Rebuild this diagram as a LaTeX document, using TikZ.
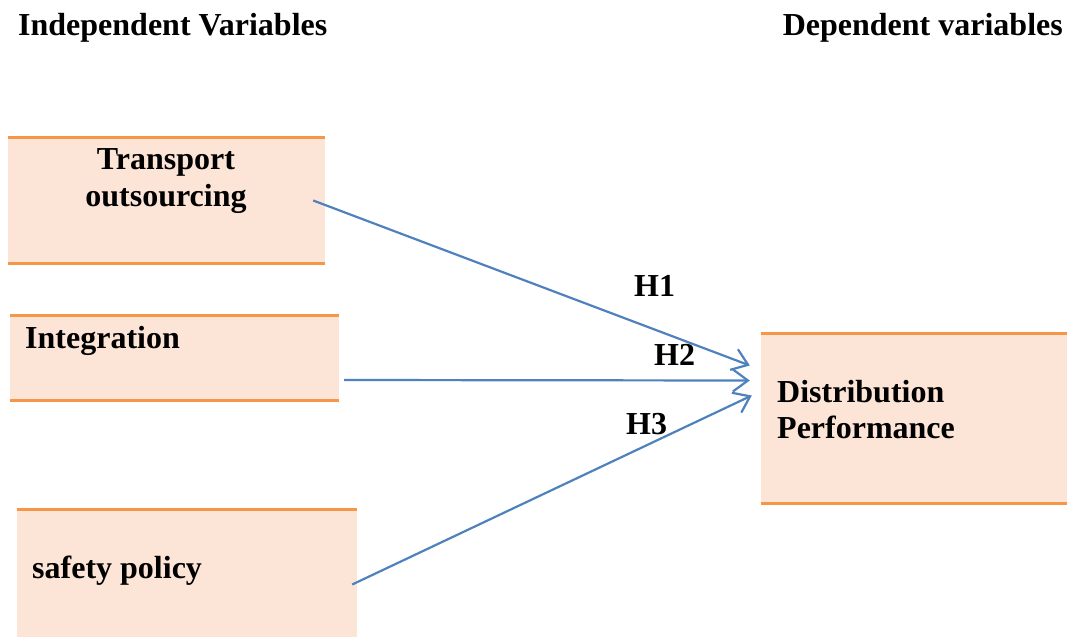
\documentclass[tikz,border=0pt]{standalone}
\usepackage{fontspec}
\setmainfont{Liberation Serif}
\usetikzlibrary{arrows.meta,calc}
\definecolor{boxfill}{HTML}{FCE4D6}
\definecolor{boxline}{HTML}{F79646}
\definecolor{arrowblue}{HTML}{4F81BD}
\tikzset{
  box/.style={fill=boxfill, inner sep=0pt},
  edge/.style={boxline, line width=3.2pt},
  link/.style={arrowblue, line width=2.2pt, -{Straight Barb[length=15pt,width=22pt]}},
  lbl/.style={font=\fontsize{32}{38}\selectfont\bfseries, inner sep=0pt},
}

\begin{document}
\begin{tikzpicture}[x=1pt,y=-1pt]
\useasboundingbox (0,0) rectangle (1067,637);

\node[lbl,anchor=base west] (iv) at (18,35) {Independent Variables};
\node[lbl,anchor=base east] (dv) at (1063,35) {Dependent variables};

% boxes
\node[box,minimum width=317pt,minimum height=125pt] (tr) at (166.5,200.5) {};
\node[box,minimum width=329pt,minimum height=84pt] (ig) at (174.5,358) {};
\node[box,minimum width=340pt,minimum height=127pt] (sp) at (187,573.5) {};
\node[box,minimum width=306pt,minimum height=169pt] (dp) at (914,418.5) {};

\foreach \b in {tr,ig,dp} {
  \draw[edge] (\b.north west) -- (\b.north east);
  \draw[edge] (\b.south west) -- (\b.south east);
}
\draw[edge] (sp.north west) -- (sp.north east);

\node[lbl,anchor=base] (tr1) at (166,169) {Transport};
\node[lbl,anchor=base] (tr2) at (166,206) {outsourcing};
\node[lbl,anchor=base west] (igt) at (25,348) {Integration};
\node[lbl,anchor=base west] (spt) at (32,578) {safety policy};
\node[lbl,anchor=base west] (dp1) at (777,402) {Distribution};
\node[lbl,anchor=base west] (dp2) at (777,438) {Performance};

% hypotheses
\draw[link] ($(tr.east)+(-12,0)$) -- ($(dp.west)+(-11,-53)$);
\draw[link] ($(ig.east)+(5,22)$) -- ($(dp.west)+(-11,-38)$);
\draw[link] ($(sp.east)+(-5,11)$) -- ($(dp.west)+(-9,-23)$);

\node[lbl,anchor=base west] (h1) at (634,296) {H1};
\node[lbl,anchor=base west] (h2) at (654,365) {H2};
\node[lbl,anchor=base west] (h3) at (626,434) {H3};
\end{tikzpicture}
\end{document}
